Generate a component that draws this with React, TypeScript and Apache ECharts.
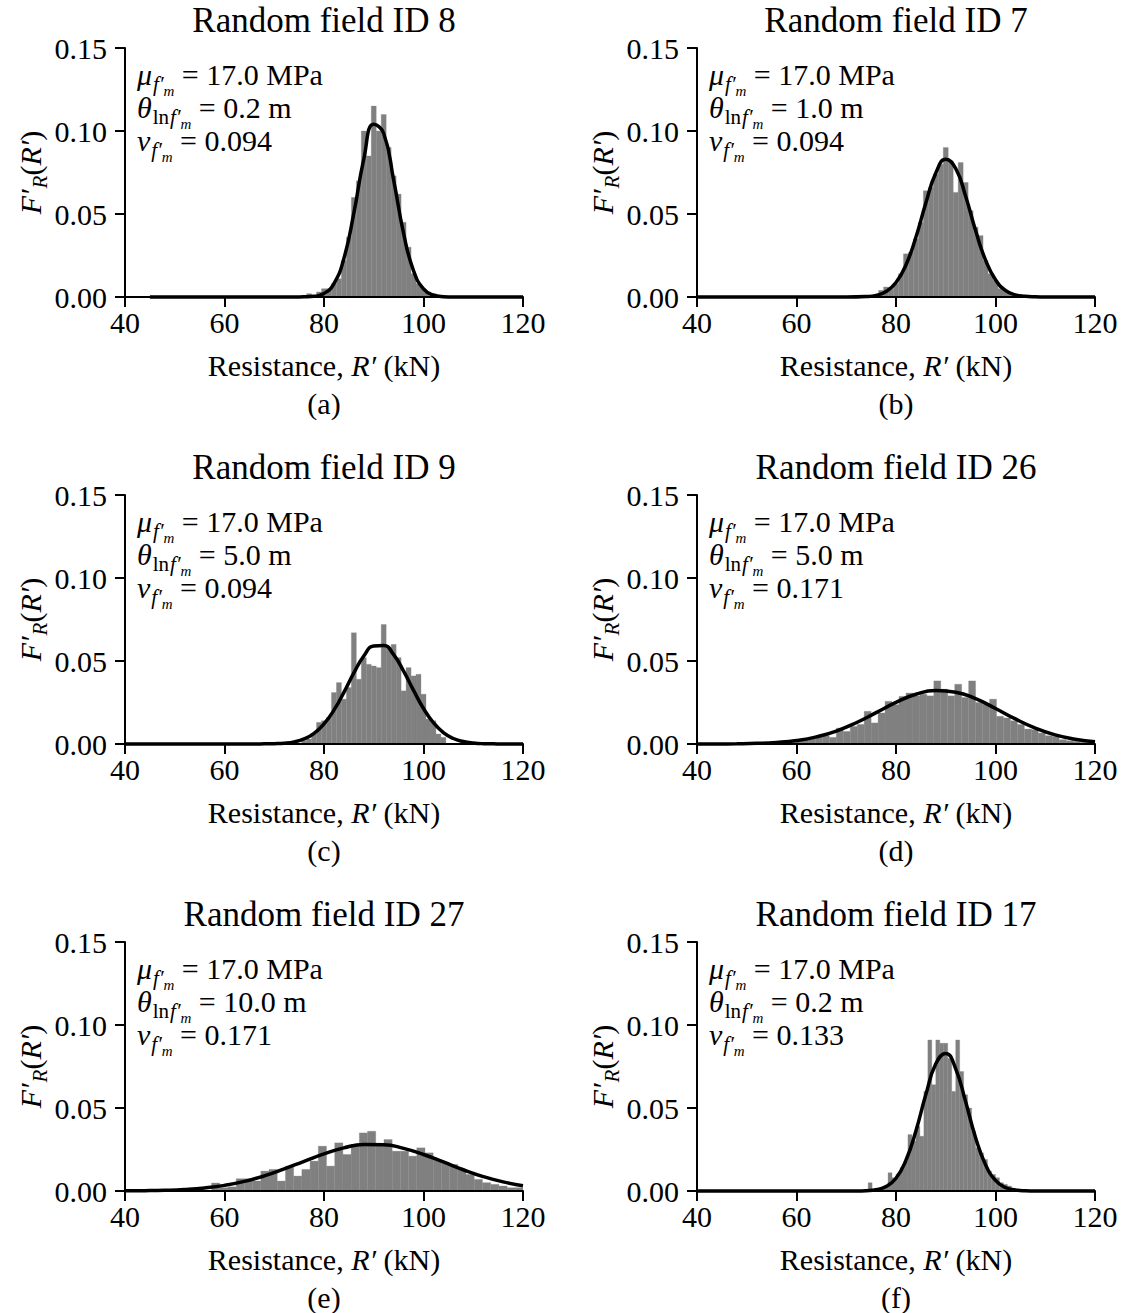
import React, { useEffect, useRef } from 'react';
import * as echarts from 'echarts';

const FONT = '"Liberation Serif", "Times New Roman", Times, serif';

// ---------- text content ----------
const panelTitles = [
  'Random field ID 8',
  'Random field ID 7',
  'Random field ID 9',
  'Random field ID 26',
  'Random field ID 27',
  'Random field ID 17',
];
const panelLetters = ['(a)', '(b)', '(c)', '(d)', '(e)', '(f)'];
const muValues = ['17.0', '17.0', '17.0', '17.0', '17.0', '17.0'];
const thetaValues = ['0.2', '1.0', '5.0', '5.0', '10.0', '0.2'];
const covValues = ['0.094', '0.094', '0.094', '0.171', '0.171', '0.133'];

// ---------- axes ----------
const xMin = 40;
const xMax = 120;
const xInterval = 20;
const yMin = 0;
const yMax = 0.15;
const yInterval = 0.05;

// ---------- histograms (bin start, bin width, heights) ----------
const histStart = [76.5, 75.5, 75.5, 52.6, 57.4, 74.4];
const histWidth = [1.0, 1.0, 1.0, 1.4, 1.65, 0.8];

const histA = [0.002, 0, 0.003, 0.005, 0.005, 0.008, 0.011, 0.022, 0.036, 0.060, 0.070, 0.100, 0.085,
  0.115, 0.100, 0.110, 0.090, 0.073, 0.062, 0.045, 0.030, 0.014, 0.008, 0.005, 0.002, 0.001];
const histB = [0.001, 0.004, 0.006, 0.005, 0.008, 0.014, 0.026, 0.027, 0.035, 0.045, 0.064, 0.066, 0.074,
  0.080, 0.090, 0.082, 0.063, 0.081, 0.069, 0.052, 0.042, 0.037, 0.022, 0.014, 0.010, 0.005, 0.004, 0.002, 0.001];
const histC = [0.002, 0.003, 0.006, 0.013, 0.014, 0.016, 0.031, 0.037, 0.027, 0.034, 0.067, 0.039, 0.052,
  0.048, 0.047, 0.046, 0.072, 0.058, 0.060, 0.052, 0.032, 0.046, 0.041, 0.042, 0.030, 0.015, 0.014, 0.006, 0.004];
const histD = [0.001, 0.0, 0.0005, 0.001, 0.0015, 0.002, 0.0025, 0.003, 0.0046, 0.005, 0.004, 0.0096,
  0.0076, 0.0106, 0.0118, 0.0197, 0.0127, 0.0187, 0.0257, 0.0237, 0.0287, 0.0307, 0.029, 0.030, 0.029,
  0.038, 0.033, 0.029, 0.036, 0.028, 0.038, 0.025, 0.024, 0.027, 0.0167, 0.0157, 0.014, 0.0117, 0.009,
  0.0086, 0.0066, 0.005, 0.0046, 0.0026, 0.002, 0.0016, 0.001, 0.001];
const histE = [0.0048, 0.002, 0.0025, 0.0074, 0.0074, 0.006, 0.012, 0.013, 0.006, 0.015, 0.009, 0.013,
  0.018, 0.027, 0.015, 0.029, 0.022, 0.028, 0.035, 0.036, 0.028, 0.031, 0.024, 0.024, 0.021, 0.026, 0.023,
  0.019, 0.017, 0.016, 0.013, 0.010, 0.007, 0.005, 0.004, 0.003, 0.002, 0.002];
const histF = [0.005, 0.001, 0.001, 0.002, 0.003, 0.011, 0.008, 0.010, 0.014, 0.018, 0.034, 0.030, 0.039,
  0.033, 0.060, 0.091, 0.064, 0.091, 0.089, 0.089, 0.080, 0.060, 0.091, 0.072, 0.058, 0.050, 0.036, 0.026,
  0.023, 0.019, 0.012, 0.010, 0.008, 0.005, 0.004, 0.003, 0.001];
const histHeights = [histA, histB, histC, histD, histE, histF];

// ---------- fitted curves (read points) ----------
const curveXA = [45, 74, 76, 78, 80, 82, 84, 86, 88, 90, 92, 94, 96, 98, 100, 102, 104, 106, 108, 120];
const curveYA = [0, 0, 0.0001, 0.0004, 0.0021, 0.0081, 0.0232, 0.0505, 0.0831, 0.1040, 0.0985, 0.0704,
  0.0383, 0.0158, 0.0049, 0.0012, 0.0002, 0, 0, 0];
const curveXB = [40, 70, 74, 76, 78, 80, 82, 84, 86, 88, 90, 92, 94, 96, 98, 100, 102, 104, 106, 108, 110, 120];
const curveYB = [0, 0, 0.0003, 0.001, 0.0033, 0.0087, 0.0193, 0.036, 0.0566, 0.0747, 0.083, 0.0774, 0.0607,
  0.040, 0.0222, 0.0104, 0.004, 0.0013, 0.0004, 0.0001, 0, 0];
const curveXC = [40, 66, 68, 70, 72, 74, 76, 78, 80, 82, 84, 86, 88, 90, 92, 94, 96, 98, 100, 102, 104, 106,
  108, 110, 112, 114, 116, 120];
const curveYC = [0, 0, 0.0001, 0.0002, 0.0005, 0.0013, 0.0031, 0.0064, 0.0121, 0.0204, 0.0311, 0.0428,
  0.0530, 0.0591, 0.0594, 0.0538, 0.0439, 0.0323, 0.0214, 0.0128, 0.0069, 0.0033, 0.0015, 0.0006, 0.0002,
  0.0001, 0, 0];
const curveXD = [40, 44, 48, 52, 56, 60, 64, 68, 72, 76, 80, 84, 88, 92, 96, 100, 104, 108, 112, 116, 120];
const curveYD = [0.00001, 0.00004, 0.00014, 0.00038, 0.00095, 0.0021, 0.0043, 0.0078, 0.0128, 0.0189,
  0.0251, 0.0300, 0.0322, 0.0312, 0.0273, 0.0214, 0.0151, 0.0096, 0.0055, 0.0029, 0.0013];
const curveXE = [40, 44, 48, 52, 56, 60, 64, 68, 72, 76, 80, 84, 88, 92, 96, 100, 104, 108, 112, 116, 120];
const curveYE = [0.00008, 0.00019, 0.00044, 0.00094, 0.00186, 0.0034, 0.0058, 0.0091, 0.0133, 0.0179,
  0.0224, 0.0260, 0.0280, 0.0279, 0.0257, 0.0220, 0.0175, 0.0128, 0.0087, 0.0055, 0.0032];
const curveXF = [40, 72, 74, 76, 78, 80, 82, 84, 86, 88, 90, 92, 94, 96, 98, 100, 102, 104, 106, 108, 120];
const curveYF = [0, 0, 0.0002, 0.0008, 0.0027, 0.0077, 0.0185, 0.0362, 0.0581, 0.0766, 0.0829, 0.0736,
  0.0537, 0.0321, 0.0158, 0.0064, 0.0021, 0.0006, 0.0001, 0, 0];
const curveX = [curveXA, curveXB, curveXC, curveXD, curveXE, curveXF];
const curveY = [curveYA, curveYB, curveYC, curveYD, curveYE, curveYF];

// ---------- layout ----------
const gridLefts = [125, 697];
const gridTops = [48, 495, 942];
const gridW = 398;
const gridH = 249;

const mathRich: any = {
  i: { fontFamily: FONT, fontStyle: 'italic', fontSize: 30, lineHeight: 33, verticalAlign: 'top', color: '#000' },
  r: { fontFamily: FONT, fontSize: 30, lineHeight: 33, verticalAlign: 'top', color: '#000' },
  si: { fontFamily: FONT, fontStyle: 'italic', fontSize: 21, lineHeight: 3, verticalAlign: 'top', padding: [14, 0, 0, 1], color: '#000' },
  sr: { fontFamily: FONT, fontSize: 21, lineHeight: 3, verticalAlign: 'top', padding: [14, 0, 0, 1], color: '#000' },
  ssi: { fontFamily: FONT, fontStyle: 'italic', fontSize: 15, lineHeight: 2, verticalAlign: 'top', padding: [24, 0, 0, 0], color: '#000' },
};

export default function App() {
  const ref = useRef<HTMLDivElement>(null);
  useEffect(() => {
    const chart = echarts.init(ref.current!, null, { renderer: 'svg' });
    const grids: any[] = [];
    const xAxes: any[] = [];
    const yAxes: any[] = [];
    const series: any[] = [];
    const graphics: any[] = [];

    for (let p = 0; p < 6; p++) {
      const left = gridLefts[p % 2];
      const top = gridTops[Math.floor(p / 2)];
      grids.push({ left, top, width: gridW, height: gridH, containLabel: false });
      xAxes.push({
        gridIndex: p,
        type: 'value',
        min: xMin,
        max: xMax,
        interval: xInterval,
        z: 5,
        axisLine: { show: true, onZero: false, lineStyle: { color: '#000', width: 2 } },
        axisTick: { show: true, length: 10, lineStyle: { color: '#000', width: 2 } },
        axisLabel: { fontFamily: FONT, fontSize: 30, color: '#000', margin: 10 },
        splitLine: { show: false },
        name: '{r|Resistance, }{i|R′}{r| (kN)}',
        nameLocation: 'middle',
        nameGap: 53,
        nameTextStyle: { rich: mathRich },
      });
      yAxes.push({
        gridIndex: p,
        type: 'value',
        min: yMin,
        max: yMax,
        interval: yInterval,
        z: 5,
        axisLine: { show: true, onZero: false, lineStyle: { color: '#000', width: 2 } },
        axisTick: { show: true, length: 10, lineStyle: { color: '#000', width: 2 } },
        axisLabel: {
          fontFamily: FONT,
          fontSize: 30,
          color: '#000',
          margin: 18,
          formatter: (v: number) => v.toFixed(2),
        },
        splitLine: { show: false },
        name: '{i|F′}{si|R}{r|(}{i|R′}{r|)}',
        nameLocation: 'middle',
        nameRotate: 90,
        nameGap: 74,
        nameTextStyle: { rich: mathRich },
      });

      const start = histStart[p];
      const w = histWidth[p];
      const bins = histHeights[p].map((h, i) => [start + i * w, start + (i + 1) * w, h]);
      series.push({
        type: 'custom',
        xAxisIndex: p,
        yAxisIndex: p,
        z: 2,
        clip: true,
        data: bins,
        encode: { x: [0, 1], y: 2 },
        renderItem: (params: any, api: any) => {
          const a = api.coord([api.value(0), api.value(2)]);
          const b = api.coord([api.value(1), 0]);
          return {
            type: 'rect',
            shape: { x: a[0], y: a[1], width: b[0] - a[0], height: b[1] - a[1] },
            style: { fill: '#808080', stroke: '#808080', lineWidth: 0.3 },
          };
        },
      });
      series.push({
        type: 'line',
        xAxisIndex: p,
        yAxisIndex: p,
        z: 3,
        clip: false,
        smooth: 0.5,
        symbol: 'none',
        lineStyle: { color: '#000', width: 3.5 },
        data: curveX[p].map((x, i) => [x, curveY[p][i]]),
      });

      // title
      graphics.push({
        type: 'text',
        x: left + gridW / 2,
        y: top - 28,
        style: {
          text: panelTitles[p],
          font: `35px ${FONT}`,
          fill: '#000',
          align: 'center',
          verticalAlign: 'middle',
        },
      });
      // letter
      graphics.push({
        type: 'text',
        x: left + gridW / 2,
        y: top + 355,
        style: {
          text: panelLetters[p],
          font: `30px ${FONT}`,
          fill: '#000',
          align: 'center',
          verticalAlign: 'middle',
        },
      });
      // annotation block
      const block = [
        `{i|μ}{si|f′}{ssi|m}{r| = ${muValues[p]} MPa}`,
        `{i|θ}{sr|ln}{si|f′}{ssi|m}{r| = ${thetaValues[p]} m}`,
        `{i|v}{si|f′}{ssi|m}{r| = ${covValues[p]}}`,
      ].join('\n');
      graphics.push({
        type: 'text',
        x: left + 12,
        y: top + 11,
        style: { text: block, rich: mathRich, align: 'left', verticalAlign: 'top' },
      });
    }

    chart.setOption({
      animation: false,
      backgroundColor: '#fff',
      textStyle: { fontFamily: FONT },
      grid: grids,
      xAxis: xAxes,
      yAxis: yAxes,
      series,
      graphic: { elements: graphics },
    });
    return () => chart.dispose();
  }, []);
  return (
    <div
      ref={ref}
      style={{ position: 'absolute', left: 0, top: 0, width: 1126, height: 1313, background: '#fff' }}
    />
  );
}
